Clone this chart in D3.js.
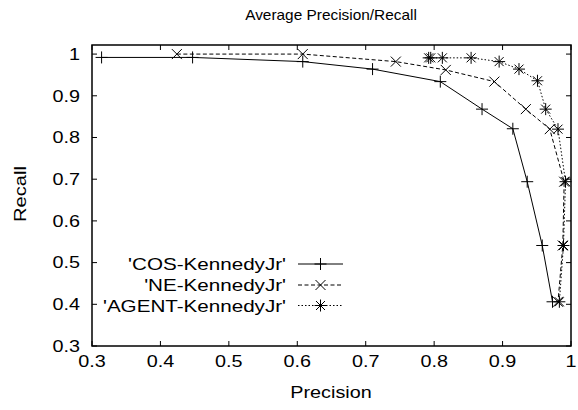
<!DOCTYPE html>
<html><head><meta charset="utf-8">
<script src="https://cdn.jsdelivr.net/npm/d3@7"></script>
<style>body{margin:0;background:#fff}svg{display:block}text{font-family:"Liberation Sans",Arial,sans-serif;fill:#000}</style>
</head><body>
<script>
const xTicks = [0.3,0.4,0.5,0.6,0.7,0.8,0.9,1];
const yTicks = [0.3,0.4,0.5,0.6,0.7,0.8,0.9,1];
const seriesNames = ["'COS-KennedyJr'","'NE-KennedyJr'","'AGENT-KennedyJr'"];
const cosPrecision = [0.314,0.447,0.608,0.710,0.809,0.870,0.915,0.936,0.958,0.973];
const cosRecall    = [0.992,0.992,0.982,0.964,0.934,0.868,0.821,0.694,0.541,0.406];
const nePrecision  = [0.424,0.608,0.744,0.817,0.888,0.934,0.969,0.990,0.988,0.981];
const neRecall     = [1.000,1.000,0.982,0.962,0.934,0.868,0.820,0.694,0.541,0.406];
const agPrecision  = [0.792,0.795,0.812,0.854,0.895,0.924,0.951,0.963,0.981,0.992,0.989,0.983];
const agRecall     = [0.991,0.991,0.991,0.991,0.982,0.964,0.936,0.868,0.820,0.694,0.541,0.406];

const W=578,H=410, L=92,R=571,T=45,B=346;
const SX=1.2;
const svg=d3.select("body").append("svg").attr("width",W).attr("height",H);
const x=d3.scaleLinear().domain([0.3,1]).range([L,R]);
const y=d3.scaleLinear().domain([0.3,1.0218]).range([B,T]);

function label(px,py,txt,anchor,size,sx){
  return svg.append("text").attr("transform",`translate(${px},${py}) scale(${sx},1)`)
    .attr("text-anchor",anchor).attr("font-size",size).text(txt);
}

// ticks (inward, mirrored)
const tk=5;
const g=svg.append("g").attr("stroke","#000").attr("stroke-width",1);
xTicks.forEach(v=>{
  g.append("line").attr("x1",x(v)).attr("x2",x(v)).attr("y1",B).attr("y2",B-tk);
  g.append("line").attr("x1",x(v)).attr("x2",x(v)).attr("y1",T).attr("y2",T+tk);
});
yTicks.forEach(v=>{
  g.append("line").attr("x1",L).attr("x2",L+tk).attr("y1",y(v)).attr("y2",y(v));
  g.append("line").attr("x1",R).attr("x2",R-tk).attr("y1",y(v)).attr("y2",y(v));
});
const fmt=d=>d===1?"1":d3.format(".1f")(d);
xTicks.forEach(v=>label(x(v),367,fmt(v),"middle",16.5,SX));
yTicks.forEach(v=>label(80,y(v)+5.8,fmt(v),"end",16.5,SX));

label(331,20,"Average Precision/Recall","middle",14,1.1);
label(331,398,"Precision","middle",16.5,SX);
svg.append("text").attr("transform","translate(26,194) rotate(-90) scale(1.2,1)").attr("text-anchor","middle").attr("font-size",16.8).text("Recall");

const styles=[{dash:null,m:"plus"},{dash:"4,2.5",m:"cross"},{dash:"1.5,2",m:"star"}];
function marker(sel,cx,cy,type){
  const s=6;
  const p=d3.path();
  if(type==="plus"||type==="star"){p.moveTo(cx-s,cy);p.lineTo(cx+s,cy);p.moveTo(cx,cy-s);p.lineTo(cx,cy+s);}
  if(type==="cross"||type==="star"){const c=type==="star"?4.5:5;p.moveTo(cx-c,cy-c);p.lineTo(cx+c,cy+c);p.moveTo(cx-c,cy+c);p.lineTo(cx+c,cy-c);}
  sel.append("path").attr("d",p.toString()).attr("stroke","#000").attr("stroke-width",1).attr("fill","none");
}
const data=[
  d3.zip(cosPrecision,cosRecall),
  d3.zip(nePrecision,neRecall),
  d3.zip(agPrecision,agRecall)
];
const line=d3.line().x(d=>x(d[0])).y(d=>y(d[1]));
const plot=svg.append("g");
data.forEach((pts,i)=>{
  plot.append("path").attr("d",line(pts)).attr("fill","none").attr("stroke","#000").attr("stroke-width",1)
    .attr("stroke-dasharray",styles[i].dash);
  pts.forEach(p=>marker(plot,x(p[0]),y(p[1]),styles[i].m));
});

// legend
const ly=[264,285,305.5];
seriesNames.forEach((n,i)=>{
  label(286,ly[i]+6,n,"end",16.5,1.25);
  svg.append("line").attr("x1",298).attr("x2",343).attr("y1",ly[i]).attr("y2",ly[i]).attr("stroke","#000").attr("stroke-width",1).attr("stroke-dasharray",styles[i].dash);
  marker(svg,320.5,ly[i],styles[i].m);
});

// frame
svg.append("rect").attr("x",L).attr("y",T).attr("width",R-L).attr("height",B-T).attr("fill","none").attr("stroke","#000").attr("stroke-width",1.5);
</script>
</body></html>
